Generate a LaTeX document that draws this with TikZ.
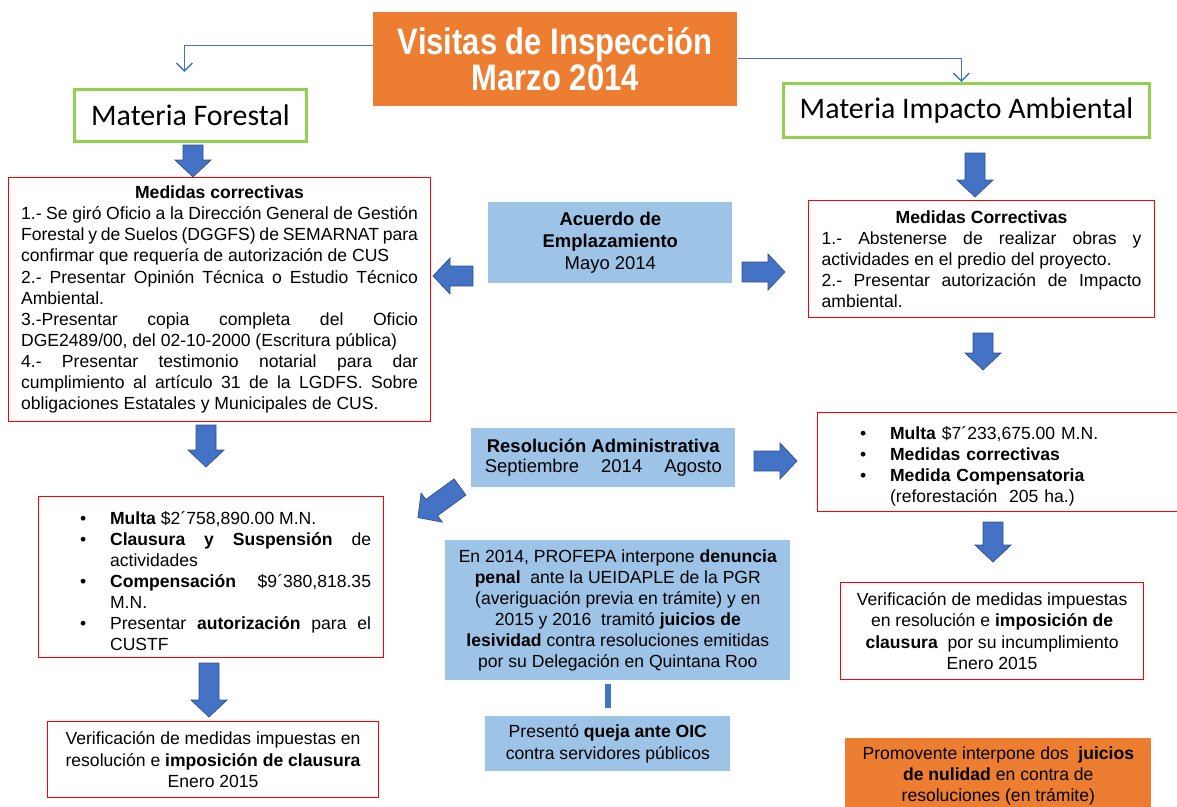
\documentclass[tikz,border=0pt]{standalone}
\usepackage{fontspec}
\setmainfont{Liberation Sans}
\newfontfamily\calibri{Carlito}
\newfontfamily\titlefont[FakeStretch=0.84]{Liberation Sans}
\usetikzlibrary{calc,arrows.meta}
\definecolor{pforange}{RGB}{237,125,49}
\definecolor{pfblue}{RGB}{68,114,196}
\definecolor{pfedge}{RGB}{47,82,143}
\definecolor{pflight}{RGB}{157,195,230}
\definecolor{pfgreen}{RGB}{146,208,80}
\definecolor{pfred}{RGB}{255,0,0}
\newcommand{\bodysize}{\fontsize{10}{12}\selectfont}
\newcommand{\bulletitem}[1]{\par\hangindent=0.6cm\hangafter=1\noindent\makebox[0.6cm][l]{\textbullet}#1}

\begin{document}
\begin{tikzpicture}[x=0.02cm, y=-0.02cm,
  redbox/.style={draw=pfred, line width=0.7pt, anchor=north west, inner xsep=0.25cm, inner ysep=0pt, font=\bodysize},
  bluebox/.style={fill=pflight, anchor=north west, inner sep=0pt, align=center, font=\bodysize},
  greenbox/.style={draw=pfgreen, line width=1.7pt, anchor=north west, inner sep=0pt, font=\calibri\fontsize{17}{20}\selectfont},
  orangebox/.style={fill=pforange, anchor=north west, inner sep=0pt, align=center},
  thinarrow/.style={draw=pfblue, line width=0.8pt, -{Straight Barb[length=1.6mm,width=3.2mm]}},
  pics/barrow/.style={code={
    \fill[pfblue, draw=pfedge, line width=0.4pt] (0,-10) -- ({#1-17},-10) -- ({#1-17},-18) -- (#1,0)
      -- ({#1-17},18) -- ({#1-17},10) -- (0,10) -- cycle;}}]
\useasboundingbox (0,0) rectangle (1177,806);

% Top: inspection visit and the two subjects
\node[orangebox, minimum width=7.28cm, minimum height=1.88cm, text=white,
      font=\titlefont\bfseries\fontsize{21}{20.5}\selectfont] (title) at (373,12) {Visitas de Inspección\\Marzo 2014};
\node[greenbox, minimum width=4.64cm, minimum height=1.04cm] (forestal) at (73,88) {Materia Forestal};
\node[greenbox, minimum width=7.32cm, minimum height=1.08cm] (impacto) at (782,82) {Materia Impacto Ambiental};
\draw[thinarrow, shorten >=0.32cm] ([yshift=0.28cm]title.west) -| ([xshift=-0.12cm]forestal.north);
\draw[thinarrow] ([yshift=0.02cm]title.east) -| ([xshift=-0.1cm]impacto.north);

% Left column: forestal
\node[redbox, minimum width=8.44cm, minimum height=4.88cm, text width=7.94cm, align=justify] (medf) at (8,177) {%
\makebox[\linewidth]{\bfseries Medidas correctivas}\par
1.- Se giró Oficio a la Dirección General de Gestión\linebreak
Forestal y de Suelos (DGGFS) de SEMARNAT para\linebreak
confirmar que requería de autorización de CUS\par
2.- Presentar Opinión Técnica o Estudio Técnico\linebreak
Ambiental.\par
3.-Presentar copia completa del Oficio\linebreak
DGE2489/00, del 02-10-2000 (Escritura pública)\par
4.- Presentar testimonio notarial para dar\linebreak
cumplimiento al artículo 31 de la LGDFS. Sobre\linebreak
obligaciones Estatales y Municipales de CUS.};

\node[redbox, minimum width=6.9cm, minimum height=3.22cm, text width=6.4cm, align=justify] (multaf) at (38,496) {%
\leftskip=0.58cm
\bulletitem{\textbf{Multa} \$2´758,890.00 M.N.}
\bulletitem{\textbf{Clausura y Suspensión} de\linebreak actividades}
\bulletitem{\textbf{Compensación} \$9´380,818.35\linebreak M.N.}
\bulletitem{Presentar \textbf{autorización} para el\linebreak CUSTF}\par};

\node[redbox, minimum width=6.62cm, minimum height=1.52cm, align=center] (verf) at (47,721)
  {Verificación de medidas impuestas en\\resolución e \textbf{imposición de clausura}\\Enero 2015};

% Centre column: procedure
\node[bluebox, minimum width=4.88cm, minimum height=1.62cm, font=\fontsize{10.5}{0.44cm}\selectfont] (acuerdo) at (488,202)
  {\textbf{Acuerdo de}\\\textbf{Emplazamiento}\\Mayo 2014};
\node[bluebox, minimum width=5.28cm, minimum height=1.18cm, font=\fontsize{10.5}{0.4cm}\selectfont] (resol) at (471,428)
  {\textbf{Resolución Administrativa}\\Septiembre\hspace{1.2em}2014\hspace{1.2em}Agosto};
\node[bluebox, minimum width=6.9cm, minimum height=2.8cm] (denuncia) at (445,540)
  {En 2014, PROFEPA interpone \textbf{denuncia}\\\textbf{penal}~ ante la UEIDAPLE de la PGR\\(averiguación previa en trámite) y en\\2015 y 2016~ tramitó \textbf{juicios de}\\\textbf{lesividad} contra resoluciones emitidas\\por su Delegación en Quintana Roo};
\node[bluebox, minimum width=4.9cm, minimum height=1.1cm] (queja) at (485,716)
  {Presentó \textbf{queja ante OIC}\\contra servidores públicos};
\draw[pfblue, line width=0.12cm, shorten <=0.06cm, shorten >=0.16cm] (queja.north |- denuncia.south) -- (queja.north);

% Right column: impacto ambiental
\node[redbox, minimum width=6.92cm, minimum height=2.34cm, text width=6.4cm, align=justify] (medi) at (808,200) {%
\makebox[\linewidth]{\bfseries Medidas Correctivas}\par
1.- Abstenerse de realizar obras y\linebreak
actividades en el predio del proyecto.\par
2.- Presentar autorización de Impacto\linebreak
ambiental.};

\node[redbox, minimum width=7.3cm, minimum height=1.98cm, text width=6.8cm, align=left] (multai) at (817,412) {%
\leftskip=0.6cm
\bulletitem{\textbf{Multa} \$7´233,675.00 M.N.}
\bulletitem{\textbf{Medidas correctivas}}
\bulletitem{\textbf{Medida Compensatoria}\newline (reforestación~ 205 ha.)}\par};

\node[redbox, minimum width=6.06cm, minimum height=1.94cm, align=center] (veri) at (840,582)
  {Verificación de medidas impuestas\\en resolución e \textbf{imposición de}\\\textbf{clausura}~ por su incumplimiento\\Enero 2015};
\node[orangebox, minimum width=6.12cm, minimum height=1.52cm, font=\bodysize] (promov) at (845,738)
  {Promovente interpone dos~ \textbf{juicios}\\\textbf{de nulidad} en contra de\\resoluciones (en trámite)};

% Block arrows
\pic[rotate=-90] at (193,145) {barrow=32};
\pic[rotate=-90] at (975,153) {barrow=44};
\pic[rotate=-90] at (983,333) {barrow=37};
\pic[rotate=-90] at (206,425) {barrow=42};
\pic[rotate=-90] at (209,663) {barrow=54};
\pic[rotate=-90] at (993,522) {barrow=40};
\pic[rotate=180] at (473,276) {barrow=40};
\pic at (742,272) {barrow=43};
\pic at (754,461) {barrow=43};
\pic[rotate=216] at (460,487) {barrow=52};
\end{tikzpicture}
\end{document}
